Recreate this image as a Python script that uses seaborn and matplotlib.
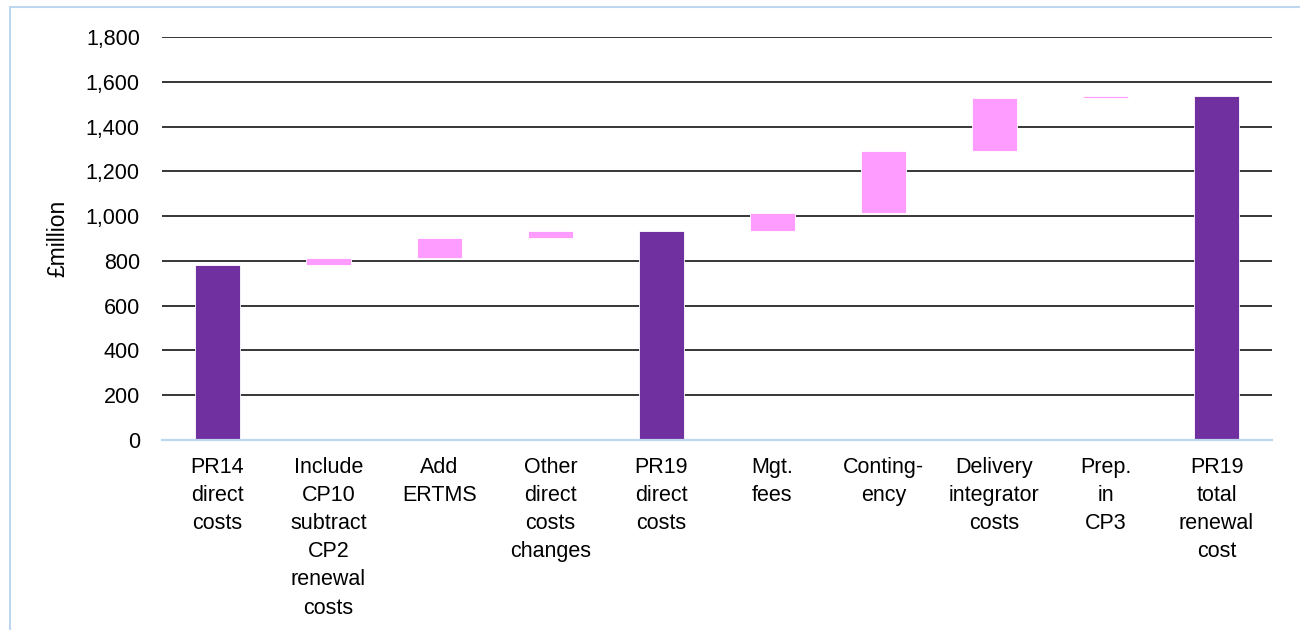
import numpy as np
import pandas as pd
import matplotlib
matplotlib.use("Agg")
import matplotlib.pyplot as plt
from matplotlib.patches import Rectangle
import seaborn as sns

# Waterfall steps from PR14 direct costs to PR19 total renewal cost (£million)
categories = [
    "PR14\ndirect\ncosts",
    "Include\nCP10\nsubtract\nCP2\nrenewal\ncosts",
    "Add\nERTMS",
    "Other\ndirect\ncosts\nchanges",
    "PR19\ndirect\ncosts",
    "Mgt.\nfees",
    "Conting-\nency",
    "Delivery\nintegrator\ncosts",
    "Prep.\nin\nCP3",
    "PR19\ntotal\nrenewal\ncost",
]
step_values = [780, 32, 89, 31, 932, 81, 276, 239, 7, 1535]
is_total = [True, False, False, False, True, False, False, False, False, True]
y_ticks = [0, 200, 400, 600, 800, 1000, 1200, 1400, 1600, 1800]

# Running totals give each floating bar its base
bottoms = []
running = 0
for v, tot in zip(step_values, is_total):
    if tot:
        bottoms.append(0)
        running = v
    else:
        bottoms.append(running)
        running += v

df = pd.DataFrame({"category": categories, "value": step_values})

TOTAL_COLOR = "#7030A0"
STEP_COLOR = "#FF9CFF"
FS = 15.5

sns.set_theme(style="white")
plt.rcParams["font.family"] = ["Liberation Sans", "DejaVu Sans"]

fig = plt.figure(figsize=(13, 6.3), dpi=100)
ax = fig.add_axes([162 / 1300, 190 / 630, 1110 / 1300, 403 / 630])

sns.barplot(data=df, x="category", y="value", order=categories,
            bottom=np.array(bottoms), width=0.41, color=STEP_COLOR,
            edgecolor="white", linewidth=0.6, ax=ax, zorder=3)
for patch, tot in zip(ax.patches, is_total):
    patch.set_facecolor(TOTAL_COLOR if tot else STEP_COLOR)

ax.set_ylim(0, 1800)
ax.set_xlim(-0.5, len(categories) - 0.5)
ax.set_yticks(y_ticks)
ax.set_yticklabels([f"{t:,}" for t in y_ticks])
for t in y_ticks[1:]:
    ax.axhline(t, color="black", linewidth=1.1, zorder=1)

for side in ["top", "right", "left"]:
    ax.spines[side].set_visible(False)
ax.spines["bottom"].set_color("#BDD7EE")
ax.spines["bottom"].set_linewidth(1.6)
ax.spines["bottom"].set_zorder(4)

ax.tick_params(axis="y", length=0, pad=16, labelsize=FS, labelcolor="black")
ax.tick_params(axis="x", length=0, pad=12, labelsize=FS, labelcolor="black")
for lbl in ax.get_xticklabels():
    lbl.set_linespacing(1.45)
    lbl.set_ha("center")

ax.set_xlabel("")
ax.set_ylabel("£million", fontsize=16.5, color="black", labelpad=12)

# Light blue frame around the chart area (open to the right and bottom)
fig.patches.append(Rectangle((10 / 1300, -0.05), 1.0, (623 / 630) + 0.05,
                             transform=fig.transFigure, fill=False,
                             edgecolor="#BDD7EE", linewidth=1.5))

fig.savefig("out.png", dpi=100, facecolor="white")
